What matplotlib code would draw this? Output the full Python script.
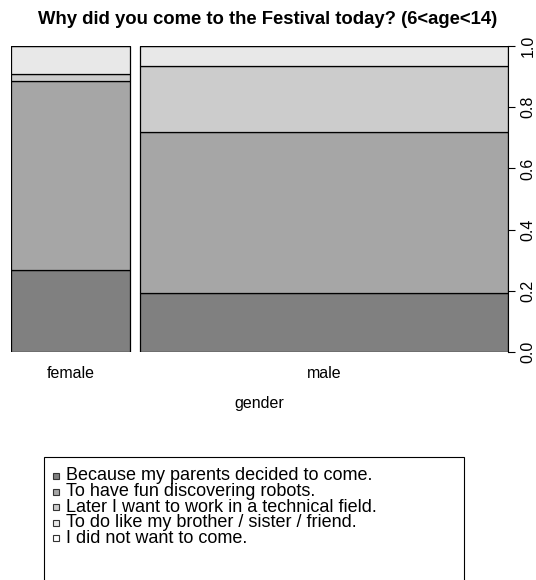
import matplotlib
matplotlib.use("Agg")
import matplotlib.pyplot as plt
from matplotlib.patches import Rectangle

plt.rcParams['font.family'] = ['Liberation Sans', 'DejaVu Sans']

genders = ["female", "male"]
gender_share = [0.2444, 0.7556]
answers = [
    "Because my parents decided to come.",
    "To have fun discovering robots.",
    "Later I want to work in a technical field.",
    "To do like my brother / sister / friend.",
    "I did not want to come.",
]
female = [0.2665, 0.6205, 0.022, 0.091, 0.0]
male = [0.194, 0.524, 0.216, 0.066, 0.0]
colors = ["#808080", "#a6a6a6", "#cccccc", "#e8e8e8", "#ffffff"]

W, H = 536, 580
fig = plt.figure(figsize=(W / 100, H / 100), dpi=100)
ax = fig.add_axes([11 / W, 1 - 352 / H, 497 / W, 306 / H])

gap = 0.02
left = 0.0
centers = []
for share, props in zip(gender_share, [female, male]):
    bottom = 0.0
    for p, c in zip(props, colors):
        ax.bar(left, p, width=share, bottom=bottom, align="edge",
               color=c, edgecolor="black", linewidth=0.9)
        bottom += p
    centers.append(left + share / 2)
    left += share + gap

ax.set_xlim(0, 1 + gap)
ax.set_ylim(0, 1)
for s in ax.spines.values():
    s.set_visible(False)

ax.set_xticks(centers)
ax.set_xticklabels(genders, fontsize=11.5)
ax.tick_params(axis="x", length=0, pad=10)
ax.set_xlabel("gender", fontsize=11.5, labelpad=11)

ax.yaxis.tick_right()
ax.spines["right"].set_visible(True)
ax.spines["right"].set_bounds(0, 1)
ax.set_yticks([0, 0.2, 0.4, 0.6, 0.8, 1.0])
ax.set_yticklabels(["0.0", "0.2", "0.4", "0.6", "0.8", "1.0"], rotation=90,
                   va="center", fontsize=11.5)
ax.tick_params(axis="y", length=5, width=0.8, pad=4)

fig.text(0.5, 1 - 19 / H, "Why did you come to the Festival today? (6<age<14)",
         fontsize=13.3, fontweight="bold", ha="center", va="center")

# legend box, cut off by the bottom of the picture like the original
fig.add_artist(Rectangle((44 / W, -0.1), (464 - 44) / W, 0.1 + 1 - 457 / H,
                         transform=fig.transFigure, fill=False,
                         edgecolor="black", linewidth=0.8, clip_on=False))
for i, (txt, c) in enumerate(zip(answers, colors)):
    y = 1 - (476 + i * 15.6) / H
    fig.add_artist(Rectangle((53 / W, y - 3 / H), 6 / W, 6 / H,
                             transform=fig.transFigure, facecolor=c,
                             edgecolor="#333333", linewidth=0.8))
    fig.text(66 / W, y, txt, fontsize=13, va="center", ha="left")

fig.savefig("out.png", dpi=100)
